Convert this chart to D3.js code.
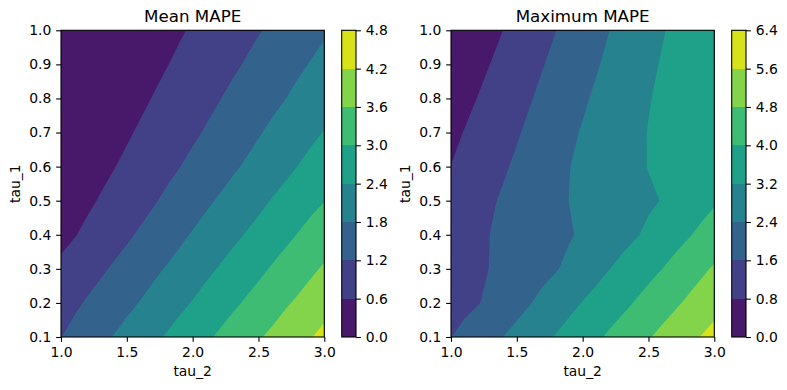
<!DOCTYPE html>
<html>
<head>
<meta charset="utf-8">
<script src="https://cdn.jsdelivr.net/npm/d3@7"></script>
<style>
  body { margin: 0; background: #fff; }
  svg { display: block; font-family: "DejaVu Sans", sans-serif; }
</style>
</head>
<body>
<div id="chart"></div>
<script>
// grid the two surfaces were sampled on
var tau2 = [1.0, 1.1, 1.2, 1.3, 1.4, 1.5, 1.6, 1.7, 1.8, 1.9, 2.0, 2.1, 2.2, 2.3, 2.4, 2.5, 2.6, 2.7, 2.8, 2.9, 3.0];
var tau1 = [0.1, 0.2, 0.3, 0.4, 0.5, 0.6, 0.7, 0.8, 0.9, 1.0];

// Mean MAPE, one row per tau_1 (0.1 first), one column per tau_2
var meanMape = [
  [1.19, 1.35, 1.51, 1.66, 1.82, 1.97, 2.13, 2.28, 2.44, 2.60, 2.76, 2.91, 3.07, 3.23, 3.39, 3.55, 3.70, 3.86, 4.02, 4.18, 4.34],
  [0.97, 1.11, 1.25, 1.39, 1.53, 1.68, 1.82, 1.97, 2.13, 2.28, 2.43, 2.59, 2.74, 2.90, 3.05, 3.21, 3.37, 3.53, 3.68, 3.84, 4.00],
  [0.72, 0.85, 0.99, 1.12, 1.26, 1.40, 1.54, 1.69, 1.83, 1.98, 2.13, 2.28, 2.43, 2.58, 2.73, 2.88, 3.04, 3.19, 3.35, 3.51, 3.66],
  [0.44, 0.57, 0.71, 0.85, 0.98, 1.12, 1.26, 1.40, 1.55, 1.69, 1.84, 1.98, 2.13, 2.28, 2.42, 2.57, 2.72, 2.87, 3.02, 3.17, 3.32],
  [0.25, 0.38, 0.51, 0.64, 0.77, 0.90, 1.02, 1.15, 1.29, 1.43, 1.57, 1.71, 1.85, 1.99, 2.13, 2.27, 2.42, 2.56, 2.71, 2.86, 2.99],
  [0.16, 0.23, 0.34, 0.46, 0.58, 0.70, 0.82, 0.94, 1.07, 1.19, 1.32, 1.45, 1.58, 1.72, 1.85, 1.99, 2.13, 2.27, 2.41, 2.56, 2.70],
  [0.12, 0.17, 0.23, 0.32, 0.43, 0.54, 0.66, 0.77, 0.89, 1.01, 1.12, 1.24, 1.37, 1.50, 1.63, 1.76, 1.89, 2.02, 2.15, 2.29, 2.42],
  [0.08, 0.11, 0.15, 0.21, 0.29, 0.39, 0.50, 0.62, 0.73, 0.84, 0.95, 1.06, 1.18, 1.30, 1.42, 1.55, 1.67, 1.79, 1.92, 2.04, 2.17],
  [0.06, 0.08, 0.11, 0.15, 0.20, 0.27, 0.36, 0.47, 0.58, 0.69, 0.80, 0.90, 1.01, 1.12, 1.23, 1.35, 1.47, 1.59, 1.71, 1.83, 1.95],
  [0.03, 0.04, 0.06, 0.09, 0.13, 0.18, 0.25, 0.34, 0.44, 0.55, 0.65, 0.75, 0.86, 0.96, 1.07, 1.17, 1.28, 1.40, 1.51, 1.63, 1.74]
];

// Maximum MAPE, same layout
var maxMape = [
  [1.59, 1.79, 2.00, 2.20, 2.41, 2.62, 2.83, 3.04, 3.25, 3.46, 3.67, 3.88, 4.10, 4.31, 4.53, 4.75, 4.97, 5.18, 5.40, 5.62, 5.84],
  [1.30, 1.43, 1.56, 1.74, 1.95, 2.16, 2.37, 2.59, 2.80, 3.02, 3.23, 3.43, 3.63, 3.83, 4.04, 4.26, 4.48, 4.69, 4.91, 5.13, 5.34],
  [1.20, 1.34, 1.48, 1.62, 1.77, 1.92, 2.06, 2.21, 2.36, 2.55, 2.76, 2.97, 3.18, 3.38, 3.58, 3.79, 3.99, 4.21, 4.43, 4.66, 4.88],
  [1.10, 1.27, 1.44, 1.61, 1.73, 1.86, 1.98, 2.10, 2.23, 2.35, 2.49, 2.66, 2.82, 2.98, 3.14, 3.33, 3.54, 3.74, 3.94, 4.14, 4.34],
  [1.00, 1.18, 1.35, 1.53, 1.68, 1.83, 1.98, 2.12, 2.27, 2.41, 2.53, 2.64, 2.75, 2.87, 2.98, 3.10, 3.22, 3.40, 3.57, 3.75, 3.92],
  [0.81, 0.99, 1.17, 1.35, 1.53, 1.70, 1.88, 2.05, 2.22, 2.39, 2.53, 2.67, 2.81, 2.94, 3.08, 3.22, 3.36, 3.49, 3.63, 3.76, 3.90],
  [0.63, 0.82, 1.00, 1.18, 1.36, 1.54, 1.73, 1.91, 2.09, 2.28, 2.45, 2.61, 2.76, 2.92, 3.07, 3.22, 3.35, 3.47, 3.60, 3.72, 3.85],
  [0.43, 0.62, 0.81, 1.00, 1.19, 1.37, 1.56, 1.75, 1.93, 2.12, 2.31, 2.49, 2.66, 2.83, 3.00, 3.17, 3.30, 3.43, 3.55, 3.68, 3.80],
  [0.24, 0.42, 0.61, 0.81, 1.00, 1.20, 1.39, 1.58, 1.77, 1.96, 2.15, 2.34, 2.53, 2.71, 2.89, 3.08, 3.24, 3.38, 3.51, 3.65, 3.78],
  [0.12, 0.25, 0.41, 0.61, 0.81, 1.01, 1.20, 1.40, 1.60, 1.80, 2.00, 2.20, 2.39, 2.58, 2.77, 2.96, 3.15, 3.31, 3.46, 3.60, 3.75]
];

var meanLevels = [0, 0.6, 1.2, 1.8, 2.4, 3.0, 3.6, 4.2, 4.8];
var maxLevels = [0, 0.8, 1.6, 2.4, 3.2, 4.0, 4.8, 5.6, 6.4];
var xTicks = [1.0, 1.5, 2.0, 2.5, 3.0];
var yTicks = [0.1, 0.2, 0.3, 0.4, 0.5, 0.6, 0.7, 0.8, 0.9, 1.0];

var W = 787, H = 390;
var fontSize = 13.9, tickLen = 4.86;

var svg = d3.select('#chart').append('svg')
  .attr('width', W)
  .attr('height', H);

function styleAxis(g) {
  g.attr('font-family', '"DejaVu Sans", sans-serif').attr('font-size', fontSize);
  g.select('.domain').remove();
  g.selectAll('.tick line').attr('stroke', '#000').attr('stroke-width', 1.1);
  g.selectAll('.tick text').attr('fill', '#000');
}

function drawPanel(left, title, grid, levels, id) {
  var top = 30.3, bottom = 337, right = left + 263.3;

  var x = d3.scaleLinear().domain([tau2[0], tau2[tau2.length - 1]]).range([left, right]);
  var y = d3.scaleLinear().domain([tau1[0], tau1[tau1.length - 1]]).range([bottom, top]);

  // d3.contours puts sample i at i + 0.5 in grid space
  var gx = d3.scaleLinear().domain([0.5, tau2.length - 0.5]).range([tau2[0], tau2[tau2.length - 1]]);
  var gy = d3.scaleLinear().domain([0.5, tau1.length - 0.5]).range([tau1[0], tau1[tau1.length - 1]]);

  var values = [];
  grid.forEach(function(row) { values = values.concat(row); });

  var contours = d3.contours()
    .size([tau2.length, tau1.length])
    .thresholds(levels.slice(0, -1))(values);

  var nBands = levels.length - 1;
  var color = function(i) { return d3.interpolateViridis((i + 0.5) / nBands); };

  var path = d3.geoPath(d3.geoTransform({
    point: function(px, py) { this.stream.point(x(gx(px)), y(gy(py))); }
  }));

  svg.append('clipPath').attr('id', id)
    .append('rect')
    .attr('x', left).attr('y', top)
    .attr('width', right - left).attr('height', bottom - top);

  svg.append('g')
    .attr('clip-path', 'url(#' + id + ')')
    .selectAll('path')
    .data(contours)
    .enter().append('path')
    .attr('d', path)
    .attr('fill', function(d, i) { return color(i); });

  // frame
  svg.append('rect')
    .attr('x', left).attr('y', top)
    .attr('width', right - left).attr('height', bottom - top)
    .attr('fill', 'none').attr('stroke', '#000').attr('stroke-width', 1.1);

  svg.append('g')
    .attr('transform', 'translate(0,' + bottom + ')')
    .call(d3.axisBottom(x).tickValues(xTicks).tickFormat(d3.format('.1f'))
      .tickSize(tickLen).tickPadding(tickLen))
    .call(styleAxis);

  svg.append('g')
    .attr('transform', 'translate(' + left + ',0)')
    .call(d3.axisLeft(y).tickValues(yTicks).tickFormat(d3.format('.1f'))
      .tickSize(tickLen).tickPadding(tickLen))
    .call(styleAxis);

  svg.append('text')
    .attr('x', (left + right) / 2).attr('y', 22)
    .attr('text-anchor', 'middle')
    .attr('font-size', 16.7)
    .text(title);

  svg.append('text')
    .attr('x', (left + right) / 2).attr('y', 376.3)
    .attr('text-anchor', 'middle')
    .attr('font-size', fontSize)
    .text('tau_2');

  svg.append('text')
    .attr('transform', 'translate(' + (left - 41.5) + ',' + ((top + bottom) / 2) + ') rotate(-90)')
    .attr('text-anchor', 'middle')
    .attr('font-size', fontSize)
    .text('tau_1');

  // colorbar
  var cbLeft = left + 280.7, cbW = 14.3;
  var cy = d3.scaleLinear().domain([levels[0], levels[nBands]]).range([bottom, top]);

  svg.append('g').selectAll('rect')
    .data(d3.range(nBands))
    .enter().append('rect')
    .attr('x', cbLeft)
    .attr('y', function(i) { return cy(levels[i + 1]); })
    .attr('width', cbW)
    .attr('height', function(i) { return cy(levels[i]) - cy(levels[i + 1]); })
    .attr('fill', function(i) { return color(i); })
    .attr('shape-rendering', 'crispEdges');

  svg.append('rect')
    .attr('x', cbLeft).attr('y', top)
    .attr('width', cbW).attr('height', bottom - top)
    .attr('fill', 'none').attr('stroke', '#000').attr('stroke-width', 1.1);

  svg.append('g')
    .attr('transform', 'translate(' + (cbLeft + cbW) + ',0)')
    .call(d3.axisRight(cy).tickValues(levels).tickFormat(d3.format('.1f'))
      .tickSize(tickLen).tickPadding(tickLen))
    .call(styleAxis);
}

drawPanel(61, 'Mean MAPE', meanMape, meanLevels, 'clipMean');
drawPanel(451, 'Maximum MAPE', maxMape, maxLevels, 'clipMax');
</script>
</body>
</html>
